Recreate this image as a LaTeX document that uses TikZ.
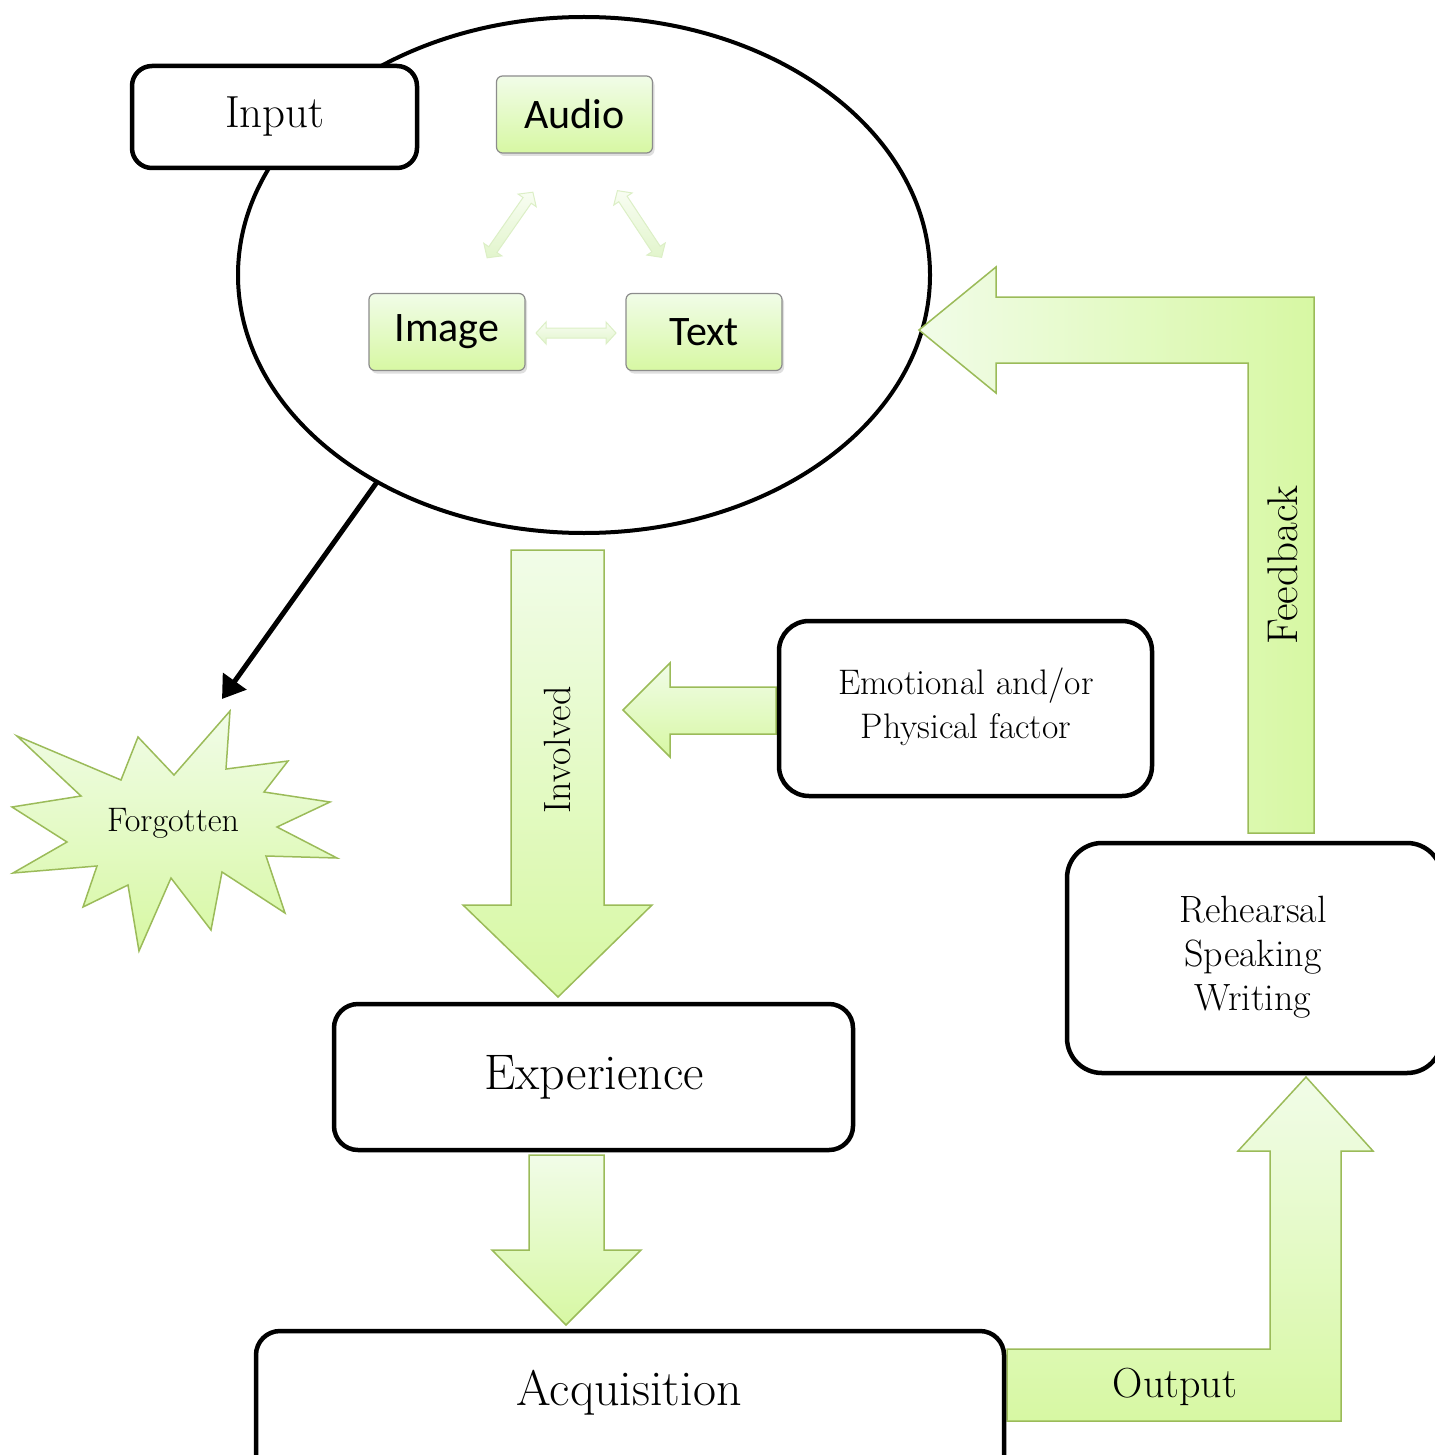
\documentclass[tikz,border=0pt]{standalone}
\usepackage{fontspec}
\newfontfamily\calib{Carlito}
\usetikzlibrary{arrows.meta,shapes.geometric,shadows}
\definecolor{grlight}{HTML}{F1FCE8}
\definecolor{grdark}{HTML}{D7F8A3}
\definecolor{grbord}{HTML}{9BBB59}
\definecolor{palelight}{HTML}{F8FDF2}
\definecolor{paledark}{HTML}{E2F5CC}
\definecolor{palebord}{HTML}{DCEFC6}
\tikzset{
  blk/.style={draw=black, line width=4.5pt, rounded corners=22pt, fill=white, inner sep=0pt, outer sep=0pt},
  garrv/.style={draw=grbord, line width=1.5pt, line join=miter, top color=grlight, bottom color=grdark},
  garrh/.style={draw=grbord, line width=1.5pt, line join=miter, left color=grlight, right color=grdark},
  gbox/.style={draw=black!45, line width=1.2pt, rounded corners=6pt, top color=grlight, bottom color=grdark,
     minimum width=156pt, minimum height=77pt, inner sep=0pt, outer sep=0pt,
     font=\calib\fontsize{42pt}{48pt}\selectfont,
     drop shadow={opacity=0.25, shadow xshift=2pt, shadow yshift=-3pt}},
  pale/.style={draw=palebord, line width=1pt, top color=palelight, bottom color=paledark},
  lbl/.style={font=\fontsize{#1pt}{44pt}\selectfont, align=center, inner sep=0pt}
}
\newcommand{\dblarr}[3]{%
  \begin{scope}[shift={(#1,#2)}, rotate=#3]
    \draw[pale] (-40,0) -- (-30,-11) -- (-30,-5) -- (30,-5) -- (30,-11) -- (40,0)
       -- (30,11) -- (30,5) -- (-30,5) -- (-30,11) -- cycle;
  \end{scope}}
\begin{document}
\begin{tikzpicture}[x=1pt, y=-1pt]
\useasboundingbox (0,0) rectangle (1434,1455);

% ellipse
\node[draw=black, line width=4pt, ellipse, minimum width=692pt, minimum height=516pt, inner sep=0pt, outer sep=0pt] (ell) at (584,275) {};

% feedback arrow
\draw[garrh] (919,330) -- (996,267) -- (996,297) -- (1314,297) -- (1314,833) -- (1248,833)
   -- (1248,363) -- (996,363) -- (996,393) -- cycle;
\node[lbl=43, rotate=90] (fb) at (1283,565) {Feedback};

% input box
\node[blk, rounded corners=20pt, minimum width=285pt, minimum height=102pt] (input) at (274.5,117) {};
\node[lbl=45] (inputt) at (275,117) {Input};

% inner green boxes
\node[gbox] (audio) at (574.5,114.5) {Audio};
\node[gbox] (image) at (447,332) {Image};
\node[gbox] (text) at (704,332) {Text};
\dblarr{576}{333}{0}
\dblarr{510}{225}{55.1}
\dblarr{639.5}{224}{-56.5}

% black arrow to forgotten
\coordinate (fgtip) at (222,699);
\draw[line width=5pt, -{Triangle[length=22pt,width=28pt]}] (ell.225) -- (fgtip);

% star
\draw[draw=grbord, line width=1.5pt, line join=miter, top color=grlight, bottom color=grdark]
  (230,711) -- (226,769) -- (288,761) -- (264,792) -- (330,802) -- (277,827) -- (337,858)
  -- (266,856) -- (285,913) -- (222,872) -- (211,930) -- (171,878) -- (139,951) -- (128,885)
  -- (83,907) -- (97,866) -- (13,873) -- (67,842) -- (12,807) -- (81,796) -- (17,736)
  -- (121,780) -- (138,737) -- (174,775) -- cycle;
\node[lbl=34] (forgot) at (173,823) {Forgotten};

% involved arrow
\draw[garrv] (511,550) -- (604,550) -- (604,905) -- (652,905) -- (558,997) -- (463,905) -- (511,905) -- cycle;
\node[lbl=38, rotate=90] (inv) at (557,750) {Involved};

% emotional arrow
\draw[garrv] (623,710) -- (670,663) -- (670,687) -- (776,687) -- (776,734) -- (670,734) -- (670,757) -- cycle;

% emotional box
\node[blk, rounded corners=30pt, minimum width=373pt, minimum height=175pt] (emo) at (965.5,708.5) {};
\node[lbl=35.5] (emot) at (966,707) {Emotional and/or\\Physical factor};

% rehearsal box
\node[blk, rounded corners=35pt, minimum width=375pt, minimum height=230pt] (reh) at (1254.5,958) {};
\node[lbl=38] (reht) at (1253,957) {Rehearsal\\Speaking\\Writing};

% experience box
\node[blk, rounded corners=24pt, minimum width=519pt, minimum height=146pt] (exp) at (593.5,1077) {};
\node[lbl=50] (expt) at (594,1077) {Experience};

% exp -> acq arrow
\draw[garrv] (529,1155) -- (604,1155) -- (604,1250) -- (641,1250) -- (566,1325) -- (492,1250) -- (529,1250) -- cycle;

% output arrow
\draw[garrv] (1007,1349) -- (1270,1349) -- (1270,1151) -- (1238,1151) -- (1306,1077) -- (1373,1151)
  -- (1341,1151) -- (1341,1421) -- (1007,1421) -- cycle;
\node[lbl=42] (outt) at (1175,1387) {Output};

% acquisition box
\node[blk, rounded corners=24pt, minimum width=748pt, minimum height=156pt] (acq) at (630,1409) {};
\node[lbl=50] (acqt) at (629,1393) {Acquisition};
\end{tikzpicture}
\end{document}
